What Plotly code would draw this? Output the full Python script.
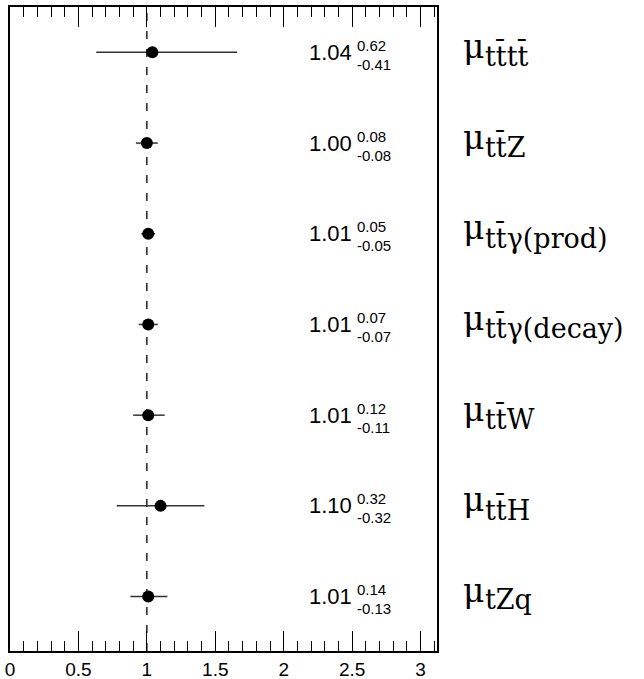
import plotly.graph_objects as go

labels = ["tt\u0304tt\u0304", "tt\u0304Z", "tt\u0304\u03b3(prod)", "tt\u0304\u03b3(decay)", "tt\u0304W", "tt\u0304H", "tZq"]
values = [1.04, 1.00, 1.01, 1.01, 1.01, 1.10, 1.01]
err_up = [0.62, 0.08, 0.05, 0.07, 0.12, 0.32, 0.14]
err_dn = [0.41, 0.08, 0.05, 0.07, 0.11, 0.32, 0.13]
rows = [7, 6, 5, 4, 3, 2, 1]

fig = go.Figure()
fig.add_trace(go.Scatter(
    x=values, y=rows, mode="markers",
    marker=dict(color="black", size=12, symbol="circle"),
    error_x=dict(type="data", symmetric=False, array=err_up, arrayminus=err_dn,
                 color="#333333", thickness=1.5, width=0),
    showlegend=False, hoverinfo="skip"))

fig.add_shape(type="line", x0=1, x1=1, xref="x", y0=0, y1=1, yref="paper",
              line=dict(color="black", width=1.3, dash="8px,10px"), layer="below")

sans = "Liberation Sans, Arial"
for v, u, d, r, lab in zip(values, err_up, err_dn, rows, labels):
    fig.add_annotation(x=2.17, y=r, xref="x", yref="y", text=f"{v:.2f}",
                       xanchor="left", yanchor="middle", showarrow=False, yshift=0,
                       font=dict(family=sans, size=22, color="black"))
    fig.add_annotation(x=2.52, y=r, xref="x", yref="y", text=f"{u:.2f}",
                       xanchor="left", yanchor="middle", showarrow=False, yshift=7,
                       font=dict(family=sans, size=15, color="black"))
    fig.add_annotation(x=2.52, y=r, xref="x", yref="y", text=f"-{d:.2f}",
                       xanchor="left", yanchor="middle", showarrow=False, yshift=-12,
                       font=dict(family=sans, size=15, color="black"))
    fig.add_annotation(x=1.056, y=r, xref="paper", yref="y", text="\u03bc",
                       xanchor="left", yanchor="middle", showarrow=False, yshift=6,
                       font=dict(family="DejaVu Serif", size=33, color="black"))
    fig.add_annotation(x=1.108, y=r, xref="paper", yref="y", text=lab,
                       xanchor="left", yanchor="middle", showarrow=False, yshift=-3,
                       font=dict(family="DejaVu Serif", size=27, color="black"))

fig.update_xaxes(range=[0, 3.12], tickvals=[0, 0.5, 1, 1.5, 2, 2.5, 3],
                 ticktext=["0", "0.5", "1", "1.5", "2", "2.5", "3"],
                 ticks="inside", ticklen=20, tickwidth=1.3, tickcolor="black",
                 minor=dict(dtick=0.1, tick0=0, ticks="inside", ticklen=10, tickwidth=1.3, tickcolor="black"),
                 showline=True, linecolor="black", linewidth=1.5, mirror="ticks",
                 showgrid=False, zeroline=False, automargin=False,
                 tickfont=dict(family=sans, size=19, color="black"))
fig.update_yaxes(range=[0.4, 7.5], showticklabels=False, ticks="", showgrid=False, zeroline=False,
                 showline=True, linecolor="black", linewidth=1.5, mirror=True, automargin=False)

fig.update_layout(width=644, height=679, margin=dict(l=10, r=207, t=7, b=28),
                  plot_bgcolor="white", paper_bgcolor="white")

fig.write_html("out.html")
